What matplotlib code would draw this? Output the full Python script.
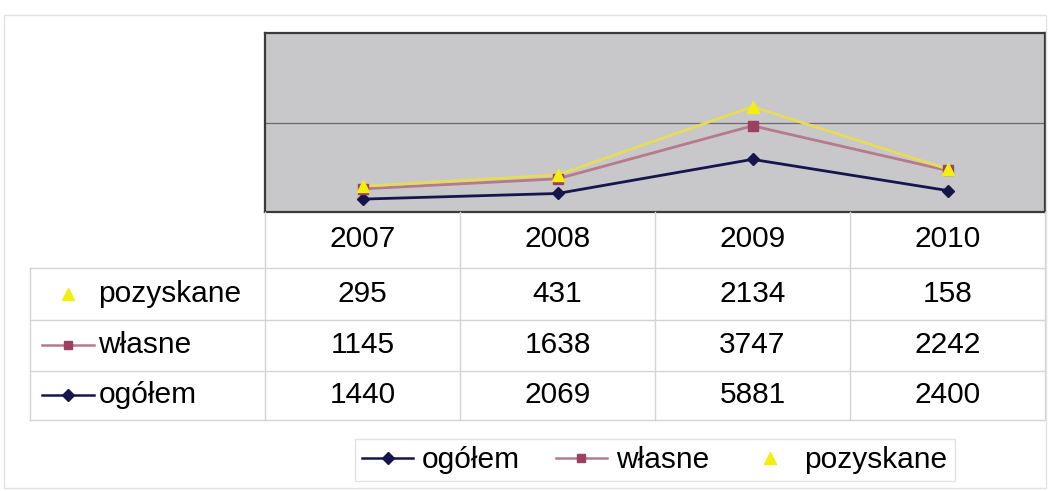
import numpy as np
import matplotlib
matplotlib.use("Agg")
import matplotlib.pyplot as plt
from matplotlib.lines import Line2D
from matplotlib.patches import Rectangle

plt.rcParams["font.family"] = ["Liberation Sans", "DejaVu Sans"]

years = ["2007", "2008", "2009", "2010"]
ogolem = [1440, 2069, 5881, 2400]
wlasne = [1145, 1638, 3747, 2242]
pozyskane = [295, 431, 2134, 158]

W, H = 1050, 491
FS = 21.5
fig = plt.figure(figsize=(W / 100, H / 100), dpi=100)
fig.patch.set_facecolor("white")


def box(x0, y0, x1, y1):
    """pixel box (top-left origin) -> figure fraction rect"""
    return [x0 / W, 1 - y1 / H, (x1 - x0) / W, (y1 - y0) / H]


# faint outer chart frame
fig.patches.append(Rectangle((4 / W, 1 - 488 / H), 1042 / W, 473 / H,
                             transform=fig.transFigure, fill=False,
                             edgecolor="#e2e2e2", lw=1.0))

# series styling, in stacking order
series = [
    ("ogółem", ogolem, "#16164c", "#16164c", "D", 6.5),
    ("własne", wlasne, "#b57a8c", "#9c3f62", "s", 6.5),
    ("pozyskane", pozyskane, "#e6dc5a", "#f2ee10", "^", 9),
]

# ----- plot area -----
ax = fig.add_axes(box(265, 33, 1045, 212))
ax.set_facecolor("#c8c8ca")
x = np.arange(len(years))
stack = np.zeros(len(years))
for name, vals, lc, mc, mk, ms in series:
    stack = stack + np.array(vals)
    ax.plot(x, stack, "-", color=lc, lw=2.0, zorder=3)
    ax.plot(x, stack, linestyle="none", marker=mk, ms=ms, color=mc,
            markeredgecolor=mc, zorder=4)
ax.set_xlim(-0.5, len(years) - 0.5)
ax.set_ylim(0, 20000)
ax.axhline(10000, color="#6a6a6a", lw=0.9, zorder=1)
ax.set_xticks([]); ax.set_yticks([])
for s in ax.spines.values():
    s.set_color("#3a3a3a"); s.set_linewidth(1.6)

# ----- data table -----
tx0, tx1, ty0, ty1 = 30, 1045, 212, 420
tab = fig.add_axes(box(tx0, ty0, tx1, ty1))
tab.axis("off")
col_w = 195.0
lab_w = (265 - tx0) / col_w
tab.set_xlim(-0.5 - lab_w, len(years) - 0.5)
tab.set_ylim(4, 0)  # header row + 3 data rows
row_edges = [0, 1.07, 2.07, 3.05, 4]
gc = "#d4d4d4"
# horizontal rules
for r in row_edges[1:]:
    tab.plot([-0.5 - lab_w, len(years) - 0.5], [r, r], color=gc, lw=1.0,
             clip_on=False)
# vertical rules
for c in np.arange(len(years) + 1) - 0.5:
    tab.plot([c, c], [0, 4], color=gc, lw=1.0, clip_on=False)
tab.plot([-0.5 - lab_w] * 2, [row_edges[1], 4], color=gc, lw=1.0,
         clip_on=False)

for i, yr in enumerate(years):
    tab.text(i, row_edges[0] + 0.52, yr, ha="center", va="center", fontsize=FS)

rows = [series[2], series[1], series[0]]
for k, (name, vals, lc, mc, mk, ms) in enumerate(rows):
    yc = (row_edges[k + 1] + row_edges[k + 2]) / 2
    for i, v in enumerate(vals):
        tab.text(i, yc, f"{v}", ha="center", va="center", fontsize=FS)
    kx = -0.5 - lab_w
    if mk != "^":
        tab.plot([kx + 0.06, kx + 0.33], [yc, yc], color=lc, lw=1.8,
                 clip_on=False)
    tab.plot([kx + 0.195], [yc], marker=mk, ms=ms * 0.9, color=mc,
             markeredgecolor=mc, clip_on=False)
    tab.text(kx + 0.35, yc, name, ha="left", va="center", fontsize=FS)

# ----- legend -----
handles = [Line2D([], [], color=lc if mk != "^" else "none", lw=1.8,
                  marker=mk, ms=ms * 0.9, markerfacecolor=mc,
                  markeredgecolor=mc, label=name)
           for name, vals, lc, mc, mk, ms in series]
leg = fig.legend(handles=handles, loc="center",
                 bbox_to_anchor=(655 / W, 1 - 460 / H), ncol=3,
                 fontsize=FS, frameon=True, fancybox=False,
                 handlelength=1.7, handletextpad=0.3, columnspacing=1.2,
                 borderpad=0.25)
leg.get_frame().set_edgecolor("#dcdcdc")
leg.get_frame().set_linewidth(1.0)

fig.savefig("out.png", dpi=100, facecolor="white")
